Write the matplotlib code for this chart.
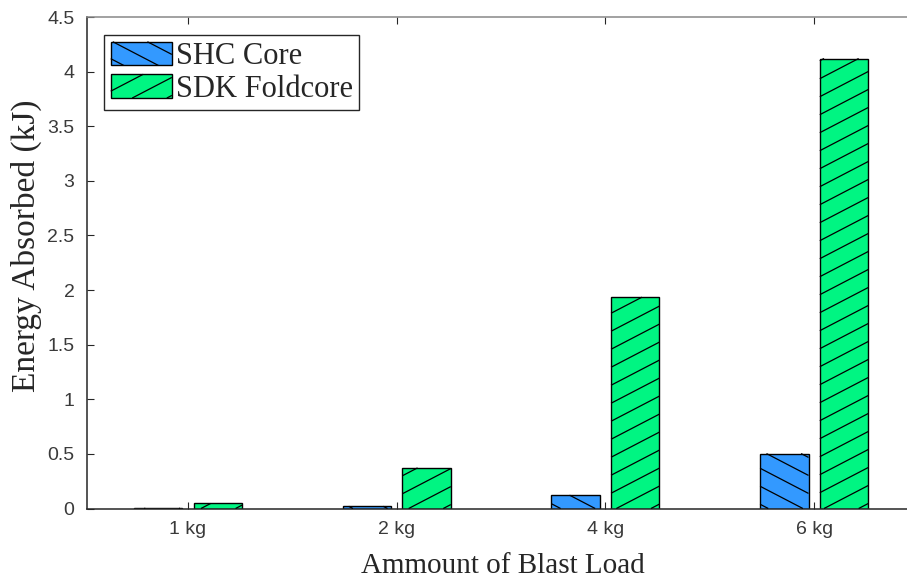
import numpy as np
import matplotlib
matplotlib.use("Agg")
import matplotlib.pyplot as plt
from matplotlib.patches import Rectangle
from matplotlib.collections import LineCollection
from matplotlib.transforms import IdentityTransform
from matplotlib.legend_handler import HandlerPatch

# data
loads = ["1 kg", "2 kg", "4 kg", "6 kg"]
shc_core = [0.004, 0.02, 0.122, 0.503]
sdk_foldcore = [0.046, 0.372, 1.935, 4.12]
series_names = ["SHC Core", "SDK Foldcore"]

BLUE = "#3399ff"
GREEN = "#00f582"
AXC = "#262626"

SLOPE = 0.52      # hatch slope (dy/dx)
SPACING = 18.0    # vertical distance between hatch lines, px


def hatch_segments(x0, y0, x1, y1, slope, spacing, phase=0.0):
    # lines y = b + slope*x, clipped to the rectangle
    segs = []
    if slope > 0:
        bmin, bmax = y0 - slope * x1, y1 - slope * x0
    else:
        bmin, bmax = y0 - slope * x0, y1 - slope * x1
    k0 = int(np.floor((bmin - phase) / spacing))
    k1 = int(np.ceil((bmax - phase) / spacing))
    for k in range(k0, k1 + 1):
        b = phase + k * spacing
        xa, xb = (y0 - b) / slope, (y1 - b) / slope
        lo, hi = max(min(xa, xb), x0), min(max(xa, xb), x1)
        if hi - lo > 0.5:
            segs.append([(lo, b + slope * lo), (hi, b + slope * hi)])
    return segs


class HatchHandler(HandlerPatch):
    def __init__(self, slope, color):
        super().__init__()
        self.slope = slope
        self.color = color

    def create_artists(self, legend, orig_handle, xdescent, ydescent,
                       width, height, fontsize, trans):
        x0, y0 = -xdescent, -ydescent
        p = Rectangle((x0, y0), width, height, facecolor=self.color,
                      edgecolor="black", lw=1.0, transform=trans)
        sp = SPACING * 72 / 100.0
        segs = hatch_segments(x0, y0, x0 + width, y0 + height, self.slope, sp, phase=4)
        lc = LineCollection(segs, colors="black", linewidths=0.9, transform=trans)
        return [p, lc]


fig = plt.figure(figsize=(9.07, 5.8), dpi=100)
ax = fig.add_axes([87 / 907, 1 - 508.5 / 580, (918.5 - 87) / 907, (508.5 - 17) / 580])

x = np.arange(1, len(loads) + 1)
w = 0.232
off = 0.143
b1 = ax.bar(x - off, shc_core, w, color=BLUE, edgecolor="black", linewidth=1.0, zorder=2)
b2 = ax.bar(x + off, sdk_foldcore, w, color=GREEN, edgecolor="black", linewidth=1.0, zorder=2)

ax.set_xlim(0.516, 4.5)
ax.set_ylim(0, 4.5)
ax.set_xticks(x)
ax.set_xticklabels(loads)
yt = np.arange(0, 4.51, 0.5)
ax.set_yticks(yt)
ax.set_yticklabels(["%g" % v for v in yt])

ax.tick_params(direction="in", length=5, width=0.8, colors=AXC, labelsize=14,
               top=True, right=True, pad=9)
for lab in ax.get_xticklabels() + ax.get_yticklabels():
    lab.set_family("Liberation Sans")
    lab.set_color("#3a3a3a")
for s in ax.spines.values():
    s.set_color(AXC)
    s.set_linewidth(1.1)
ax.spines["top"].set_color("#888888")

ax.set_xlabel("Ammount of Blast Load", family="Liberation Serif", fontsize=21,
              color=AXC, labelpad=11)
ax.set_ylabel("Energy Absorbed (kJ)", family="Liberation Serif", fontsize=24,
              color=AXC)
ax.yaxis.set_label_coords(-0.054, 0.534)

# custom hatching, drawn in pixel space so the angle matches
fig.canvas.draw()
for bars, slope in ((b1, -SLOPE), (b2, SLOPE)):
    segs = []
    for r in bars:
        (px0, py0), (px1, py1) = ax.transData.transform(
            [(r.get_x(), r.get_y()), (r.get_x() + r.get_width(), r.get_y() + r.get_height())])
        segs += hatch_segments(px0, py0, px1, py1, slope, SPACING, phase=3)
    lc = LineCollection(segs, colors="black", linewidths=0.9,
                        transform=IdentityTransform(), zorder=3)
    ax.add_collection(lc)

leg = ax.legend([b1[0], b2[0]], series_names, loc="upper left",
                bbox_to_anchor=(17 / 831.5, 1 - 18 / 491.5),
                handler_map={b1[0]: HatchHandler(-SLOPE, BLUE), b2[0]: HatchHandler(SLOPE, GREEN)},
                prop={"family": "Liberation Serif", "size": 22},
                handlelength=2.0, handleheight=0.82, handletextpad=0.12,
                labelspacing=0.1, borderpad=0.22, borderaxespad=0,
                fancybox=False, framealpha=1, edgecolor=AXC)
leg.get_frame().set_linewidth(1.0)
for t in leg.get_texts():
    t.set_color(AXC)

fig.savefig("out.png", dpi=100)
